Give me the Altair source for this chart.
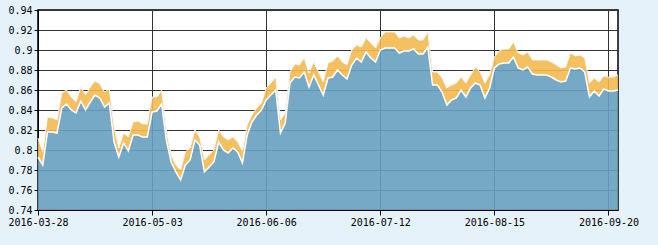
import altair as alt
import pandas as pd

# Trading days (Shanghai market) 2016-03-28 .. 2016-09-22
holidays = ["2016-04-04", "2016-05-02", "2016-06-09", "2016-06-10", "2016-09-15", "2016-09-16"]
dates = [d.strftime("%Y-%m-%d") for d in pd.bdate_range("2016-03-28", "2016-09-22")
         if d.strftime("%Y-%m-%d") not in holidays]

lower = [
    0.793, 0.785, 0.818, 0.818, 0.817, 0.842, 0.846, 0.840, 0.837, 0.849,
    0.840, 0.848, 0.855, 0.852, 0.843, 0.847, 0.808, 0.793, 0.807, 0.799,
    0.815, 0.815, 0.813, 0.813, 0.838, 0.839, 0.846, 0.810, 0.788, 0.778,
    0.770, 0.785, 0.790, 0.810, 0.805, 0.778, 0.783, 0.788, 0.808, 0.800,
    0.797, 0.802, 0.798, 0.787, 0.815, 0.828, 0.835, 0.840, 0.850, 0.855,
    0.860, 0.817, 0.827, 0.867, 0.873, 0.872, 0.878, 0.863, 0.875, 0.865,
    0.855, 0.872, 0.873, 0.880, 0.875, 0.871, 0.885, 0.892, 0.888, 0.898,
    0.892, 0.888, 0.900, 0.902, 0.902, 0.902, 0.897, 0.899, 0.899, 0.901,
    0.896, 0.896, 0.903, 0.865, 0.865, 0.858, 0.845, 0.850, 0.852, 0.860,
    0.853, 0.862, 0.867, 0.865, 0.852, 0.862, 0.882, 0.886, 0.887, 0.887,
    0.893, 0.882, 0.880, 0.883, 0.876, 0.875, 0.875, 0.875, 0.873, 0.870,
    0.868, 0.869, 0.882, 0.881, 0.882, 0.878, 0.853, 0.859, 0.854, 0.861,
    0.859, 0.859, 0.860,
]
upper = [
    0.812, 0.798, 0.833, 0.832, 0.830, 0.857, 0.860, 0.853, 0.848, 0.863,
    0.855, 0.863, 0.869, 0.866, 0.858, 0.861, 0.823, 0.802, 0.817, 0.813,
    0.828, 0.829, 0.826, 0.826, 0.853, 0.853, 0.860, 0.820, 0.795, 0.785,
    0.780, 0.798, 0.802, 0.820, 0.813, 0.790, 0.795, 0.800, 0.820, 0.813,
    0.810, 0.813, 0.808, 0.799, 0.825, 0.835, 0.842, 0.847, 0.862, 0.867,
    0.873, 0.830, 0.837, 0.878, 0.886, 0.885, 0.892, 0.877, 0.888, 0.878,
    0.868, 0.887, 0.889, 0.894, 0.888, 0.885, 0.900, 0.905, 0.903, 0.912,
    0.907, 0.902, 0.912, 0.918, 0.918, 0.918, 0.912, 0.914, 0.912, 0.915,
    0.910, 0.910, 0.918, 0.878, 0.878, 0.872, 0.862, 0.865, 0.867, 0.873,
    0.867, 0.875, 0.883, 0.878, 0.867, 0.875, 0.893, 0.899, 0.901, 0.901,
    0.908, 0.897, 0.895, 0.898, 0.890, 0.890, 0.890, 0.890, 0.888, 0.885,
    0.882, 0.883, 0.897, 0.894, 0.895, 0.892, 0.867, 0.872, 0.868, 0.874,
    0.873, 0.873, 0.875,
]

x_ticks = ["2016-03-28", "2016-05-03", "2016-06-06", "2016-07-12", "2016-08-15", "2016-09-20"]
y_ticks = [0.74, 0.76, 0.78, 0.80, 0.82, 0.84, 0.86, 0.88, 0.90, 0.92, 0.94]

n = min(len(dates), len(lower), len(upper))
df = pd.DataFrame({"date": dates[:n], "lower": lower[:n], "upper": upper[:n]})

FONT = "DejaVu Sans Mono"

x_enc = alt.X(
    "date:O",
    sort=None,
    scale=alt.Scale(type="point", padding=0),
    axis=alt.Axis(
        values=x_ticks, labelAngle=0, title=None, grid=True,
        gridColor="#333333", gridWidth=1, tickColor="#000000", tickSize=5,
        domainColor="#000000", labelFont=FONT, labelFontSize=10,
        labelColor="#000000", labelPadding=2,
    ),
)
y_scale = alt.Scale(domain=[0.74, 0.94], zero=False, nice=False)
y_axis = alt.Axis(
    values=y_ticks, title=None, grid=True, gridColor="#333333", gridWidth=1,
    tickColor="#000000", tickSize=4, domainColor="#000000",
    labelFont=FONT, labelFontSize=10, labelColor="#000000", labelPadding=2,
    labelExpr="format(datum.value, '.2~f')",
)

base = alt.Chart(df)

blue = base.mark_area(color="#67A0C0", opacity=0.9).encode(
    x=x_enc,
    y=alt.Y("lower:Q", scale=y_scale, axis=y_axis),
    y2=alt.datum(0.74),
)
orange = base.mark_area(color="#F4B94E", opacity=0.9).encode(
    x=x_enc,
    y=alt.Y("upper:Q", scale=y_scale, axis=y_axis),
    y2="lower:Q",
)
line_low = base.mark_line(color="#ffffff", strokeWidth=1.5).encode(
    x=x_enc,
    y=alt.Y("lower:Q", scale=y_scale, axis=y_axis),
)
line_up = base.mark_line(color="#f3f6fa", strokeWidth=1).encode(
    x=x_enc,
    y=alt.Y("upper:Q", scale=y_scale, axis=y_axis),
)

chart = (
    alt.layer(blue, orange, line_low, line_up)
    .properties(
        width=580, height=200, autosize="none",
        padding={"left": 38, "top": 10, "right": 40, "bottom": 35},
        background="#E6F2FA",
    )
    .configure_view(stroke="#000000", strokeWidth=1.5, fill="#ffffff")
)

chart.save("out.html", embed_options={"renderer": "svg", "actions": False})
